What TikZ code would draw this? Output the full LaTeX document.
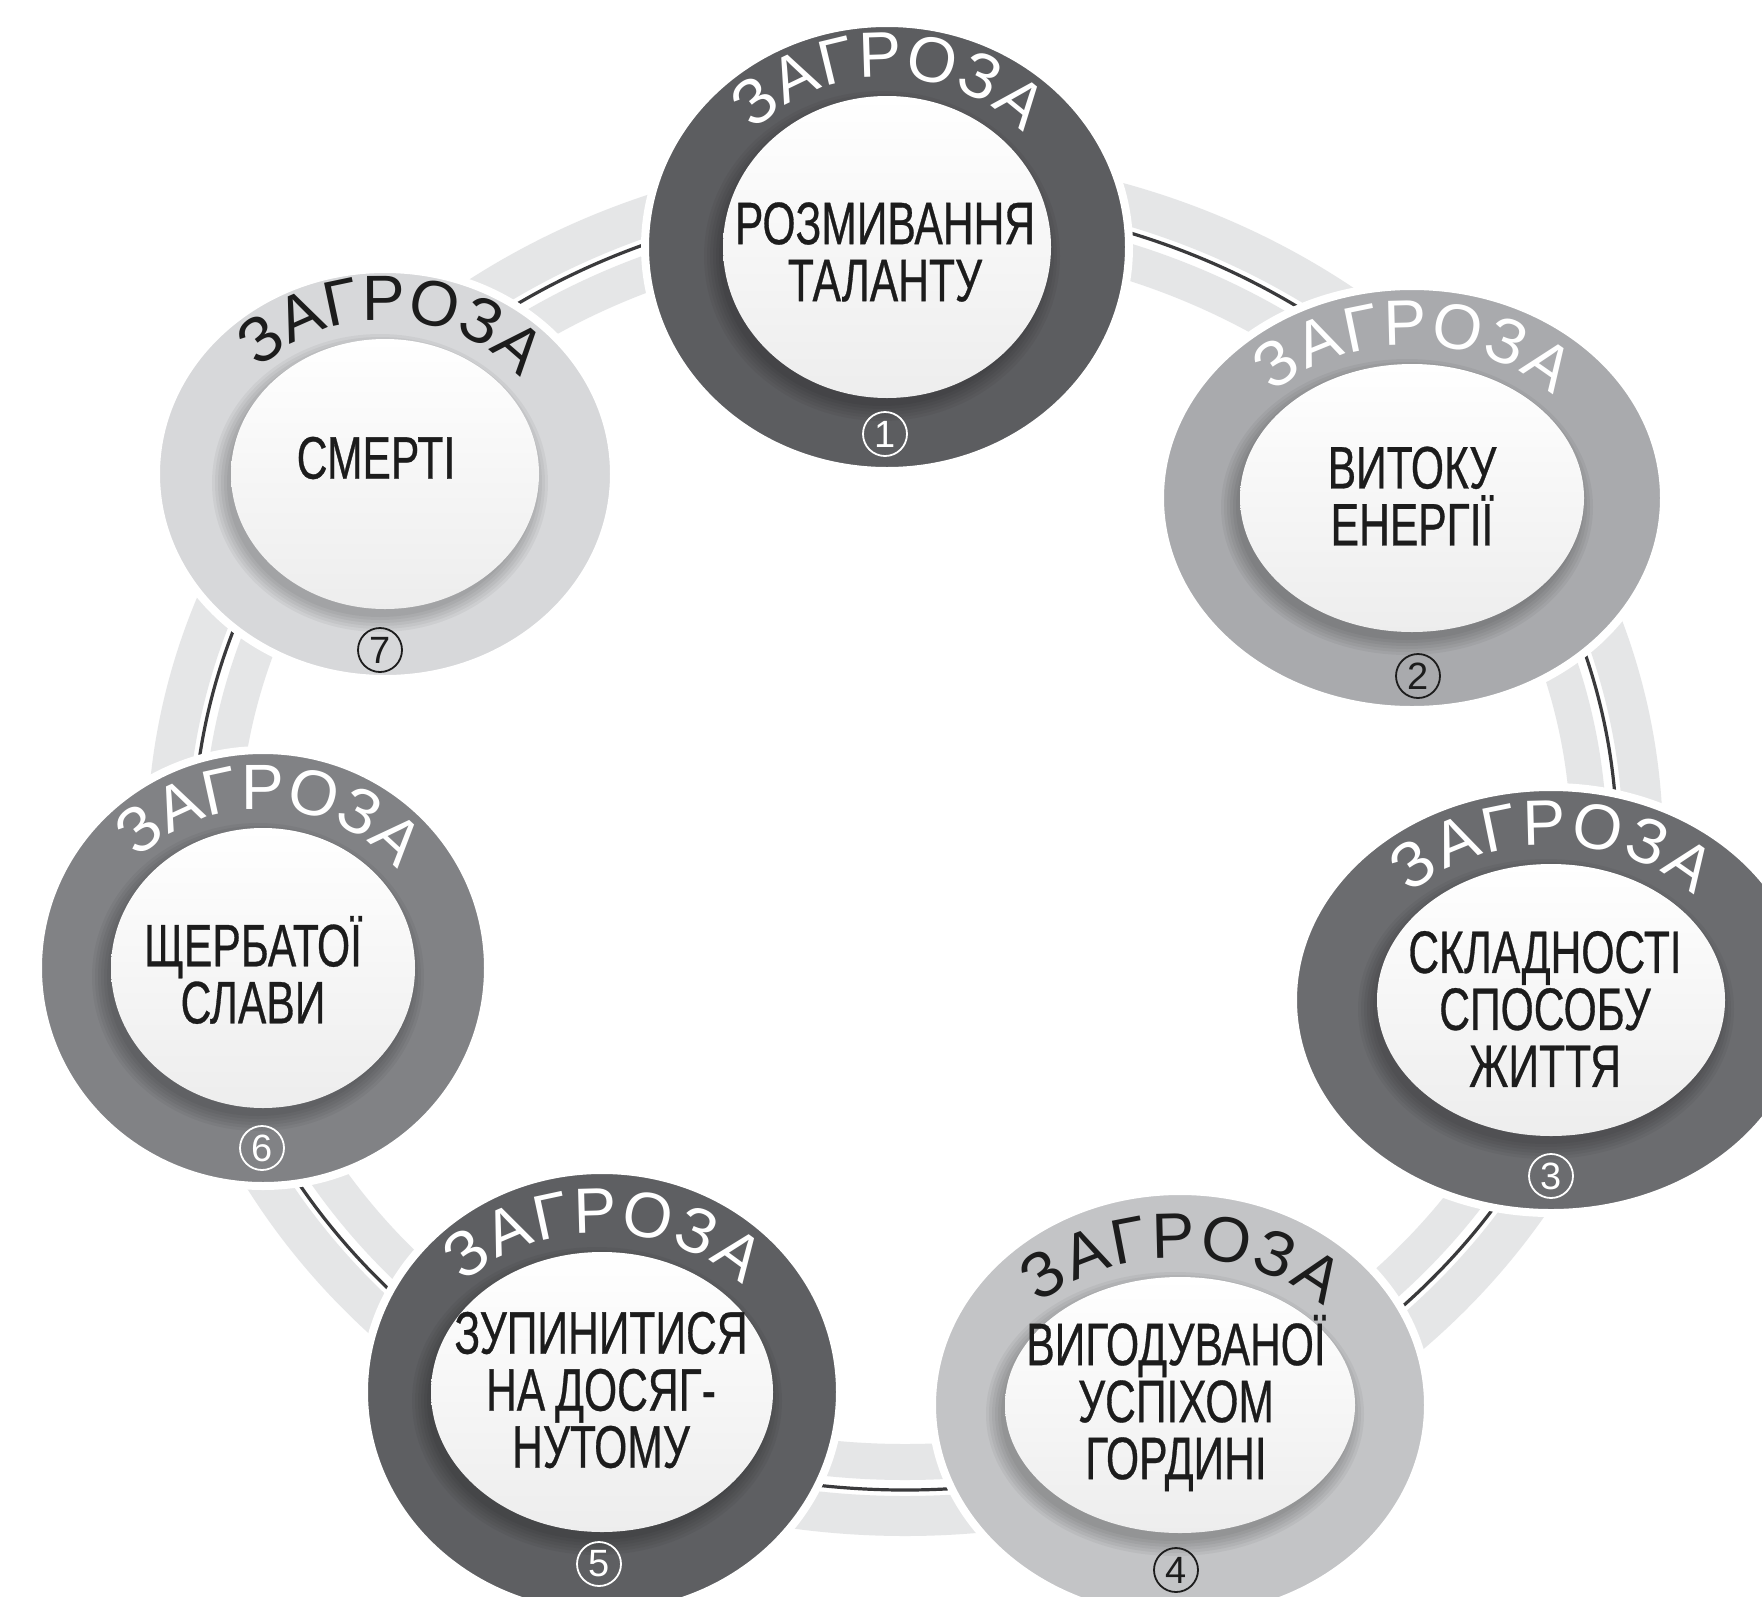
\documentclass[tikz,border=0pt]{standalone}
\usepackage{fontspec}
\setmainfont{Liberation Sans}
\newfontfamily\narrowfont[FakeStretch=0.71, FakeBold=0.5]{Liberation Sans}
\newfontfamily\arcfont{Liberation Sans}
\usetikzlibrary{shapes.geometric,decorations.text}

\definecolor{ga}{HTML}{5C5D60}
\definecolor{gb}{HTML}{A9AAAD}
\definecolor{gc}{HTML}{6B6C6F}
\definecolor{gd}{HTML}{C3C4C6}
\definecolor{ge}{HTML}{5E5F62}
\definecolor{gf}{HTML}{818285}
\definecolor{gg}{HTML}{D7D8DA}
\definecolor{bandgrey}{HTML}{E5E6E7}
\definecolor{ringline}{HTML}{3A3A3C}
\definecolor{ink}{HTML}{1C1C1C}

\newcommand\threatdisc[9]{%
  \node[outerdisc, fill=#8, minimum width=#4pt, minimum height=#5pt] (c#1) at (#2,-#3) {};
  \foreach \k in {1,...,6}{%
    \fill[black, opacity=0.045] (#2-5,-#3-9) ellipse[x radius=#6-4+3*\k, y radius=#7-4+3*\k];
  }%
  \node[innerdisc, minimum width=#6pt, minimum height=#7pt] (i#1) at (#2,-#3) {};
  \pgfmathsetmacro\bx{#6+18}%
  \pgfmathsetmacro\by{#7+19}%
  \pgfmathsetmacro\sx{\bx*cos(137)}%
  \pgfmathsetmacro\sy{\by*sin(137)}%
  \path[decorate, decoration={text along path, text color=#9, text align=fit to path,
      text={|\arcfont\fontsize{32}{32}\selectfont|ЗАГРОЗА}}]
    ([shift={(\sx,\sy)}]i#1.center) arc[start angle=137, end angle=42, x radius=\bx, y radius=\by];
}

\begin{document}
\begin{tikzpicture}[x=0.5pt,y=0.5pt,
  outerdisc/.style={ellipse, inner sep=0pt, draw=white, line width=4pt},
  innerdisc/.style={ellipse, inner sep=0pt, top color=white, bottom color=black!7},
  lbl/.style={text=ink, align=center, inner sep=0pt, font=\narrowfont\fontsize{30}{28.5}\selectfont},
  numc/.style={circle, line width=0.9pt, minimum size=22pt, inner sep=0pt, font=\arcfont\fontsize{19}{19}\selectfont},
]
\useasboundingbox (0,0) rectangle (1762,-1596);
\fill[white] (0,0) rectangle (1762,-1596);

% ring
\coordinate (rc) at (905,-845);
\draw[bandgrey, line width=18pt] (rc) ellipse[x radius=684, y radius=617];
\draw[bandgrey, line width=20pt] (rc) ellipse[x radius=738, y radius=671];
\draw[ringline, line width=1.6pt] (rc) ellipse[x radius=712, y radius=645];

% discs
\threatdisc{1}{887}{247}{242}{224}{164}{151}{ga}{white}
\threatdisc{2}{1412}{498}{252}{212}{172}{134}{gb}{white}
\threatdisc{3}{1551}{1000}{258}{213}{174}{136}{gc}{white}
\threatdisc{4}{1180}{1405}{248}{214}{175}{128}{gd}{ink}
\threatdisc{5}{602}{1392}{238}{222}{171}{140}{ge}{white}
\threatdisc{6}{263}{968}{225}{218}{152}{140}{gf}{white}
\threatdisc{7}{385}{474}{229}{205}{154}{135}{gg}{ink}

% labels
\node[lbl] (t1) at (885,-252) {РОЗМИВАННЯ\\ТАЛАНТУ};
\node[lbl] (t2) at (1412,-496) {ВИТОКУ\\ЕНЕРГІЇ};
\node[lbl] (t3) at (1545,-1009) {СКЛАДНОСТІ\\СПОСОБУ\\ЖИТТЯ};
\node[lbl] (t4) at (1176,-1403) {ВИГОДУВАНОЇ\\УСПІХОМ\\ГОРДИНІ};
\node[lbl] (t5) at (601,-1390) {ЗУПИНИТИСЯ\\НА\,ДОСЯГ-\\НУТОМУ};
\node[lbl] (t6) at (253,-970) {ЩЕРБАТОЇ\\СЛАВИ};
\node[lbl] (t7) at (376,-458) {СМЕРТІ};

% numbers
\node[numc, draw=white, text=white] (n1) at (885,-434) {1};
\node[numc, draw=ink, text=ink] (n2) at (1418,-676) {2};
\node[numc, draw=white, text=white] (n3) at (1551,-1176) {3};
\node[numc, draw=ink, text=ink] (n4) at (1176,-1570) {4};
\node[numc, draw=white, text=white] (n5) at (599,-1564) {5};
\node[numc, draw=white, text=white] (n6) at (262,-1148) {6};
\node[numc, draw=ink, text=ink] (n7) at (380,-650) {7};
\end{tikzpicture}
\end{document}
